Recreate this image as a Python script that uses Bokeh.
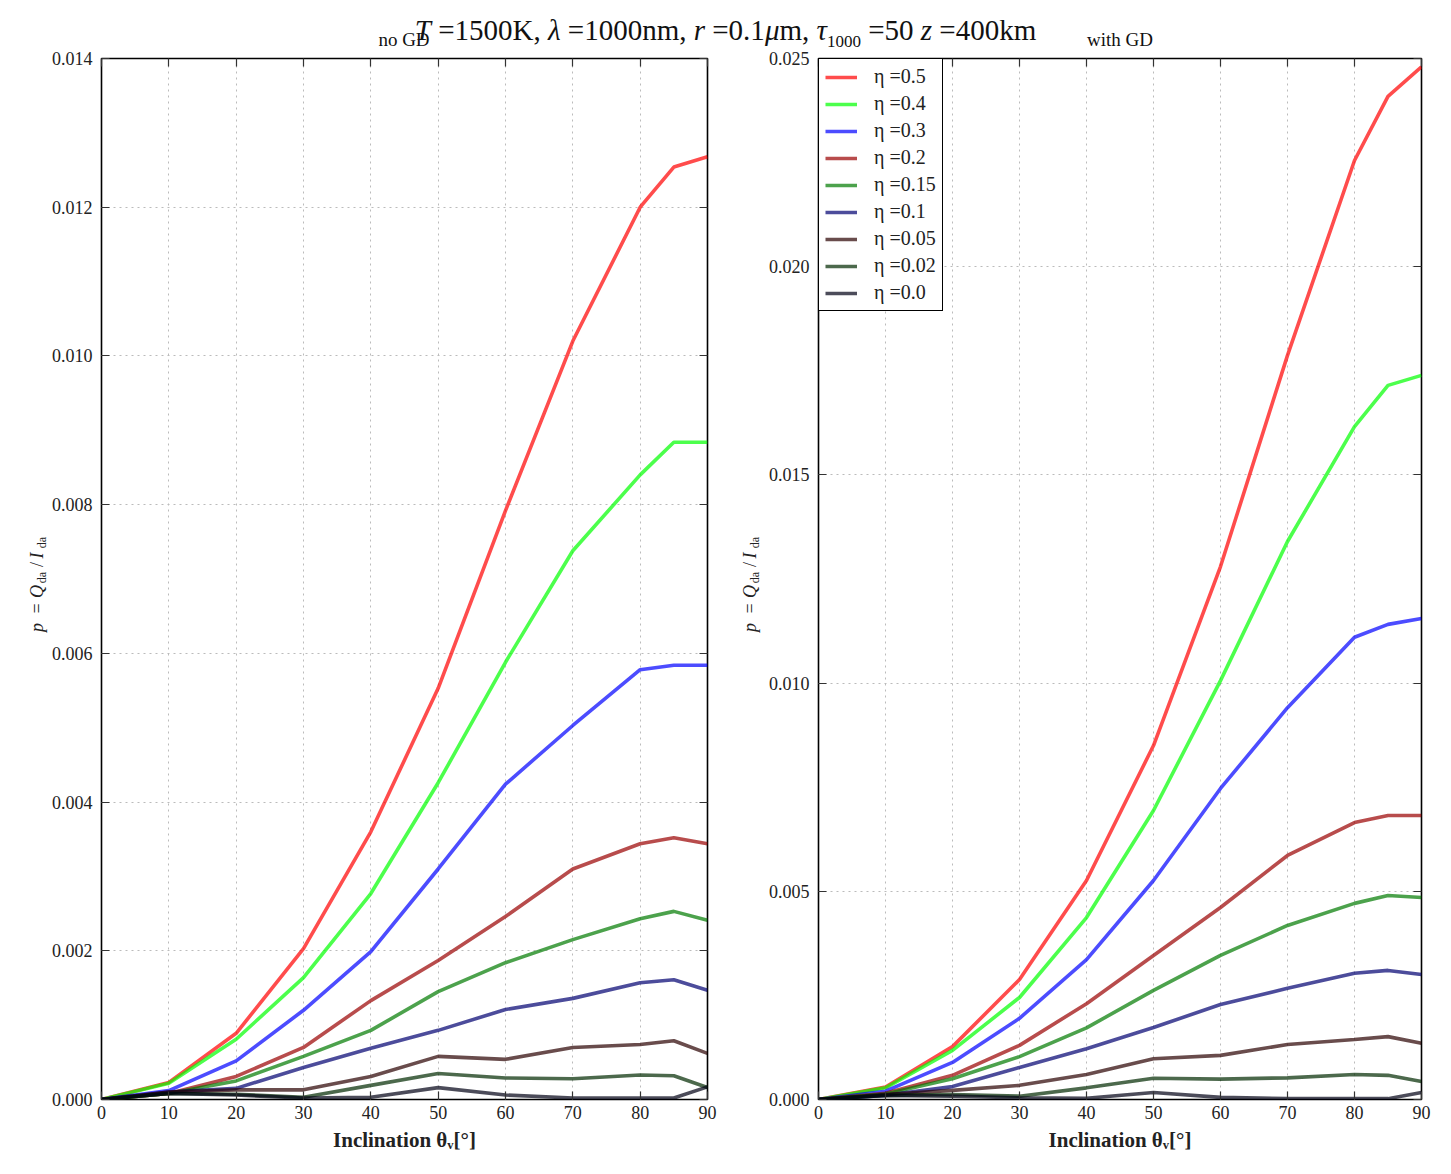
import math
from bokeh.plotting import figure
from bokeh.models import (Range1d, FixedTicker, NumeralTickFormatter, LinearAxis,
                          Legend, LegendItem, Div)
from bokeh.core.properties import value
from bokeh.layouts import column, row
from bokeh.embed import file_html
from bokeh.resources import INLINE

# Inclination angles (degrees)
incl = [0, 10, 20, 30, 40, 50, 60, 70, 80, 85, 90]

etas = ["0.5", "0.4", "0.3", "0.2", "0.15", "0.1", "0.05", "0.02", "0.0"]
colors = ["#ff0000", "#00ff00", "#0000ff", "#9a0000", "#007a00",
          "#000070", "#2a0000", "#002a00", "#000014"]

# Degree of polarisation without gravity darkening
nogd_05 = [0, 0.00023, 0.00089, 0.00203, 0.00360, 0.00553, 0.00792, 0.01020, 0.01200, 0.01254, 0.01268]
nogd_04 = [0, 0.00022, 0.00081, 0.00164, 0.00277, 0.00426, 0.00588, 0.00738, 0.00840, 0.00884, 0.00884]
nogd_03 = [0, 0.00012, 0.00052, 0.00120, 0.00199, 0.00310, 0.00424, 0.00503, 0.00578, 0.00584, 0.00584]
nogd_02 = [0, 0.00008, 0.00031, 0.00070, 0.00133, 0.00187, 0.00246, 0.00310, 0.00344, 0.00352, 0.00344]
nogd_015 = [0, 0.00008, 0.00025, 0.00058, 0.00093, 0.00145, 0.00184, 0.00215, 0.00243, 0.00253, 0.00241]
nogd_01 = [0, 0.00010, 0.00015, 0.00043, 0.00069, 0.00093, 0.00121, 0.00136, 0.00157, 0.00161, 0.00147]
nogd_005 = [0, 0.00010, 0.00013, 0.00013, 0.00031, 0.00058, 0.00054, 0.00070, 0.00074, 0.00079, 0.00062]
nogd_002 = [0, 0.00008, 0.00007, 0.00003, 0.00019, 0.00035, 0.00029, 0.00028, 0.00033, 0.00032, 0.00016]
nogd_00 = [0, 0.00008, 0.00006, 0.00002, 0.00003, 0.00016, 0.00006, 0.00002, 0.00002, 0.00002, 0.00017]

# Degree of polarisation with gravity darkening
gd_05 = [0, 0.00030, 0.00127, 0.00288, 0.00526, 0.00850, 0.01280, 0.01787, 0.02255, 0.02409, 0.02480]
gd_04 = [0, 0.00028, 0.00118, 0.00245, 0.00437, 0.00694, 0.01006, 0.01340, 0.01616, 0.01715, 0.01739]
gd_03 = [0, 0.00020, 0.00089, 0.00195, 0.00336, 0.00526, 0.00747, 0.00941, 0.01110, 0.01141, 0.01155]
gd_02 = [0, 0.00015, 0.00058, 0.00130, 0.00230, 0.00346, 0.00461, 0.00586, 0.00665, 0.00682, 0.00682]
gd_015 = [0, 0.00013, 0.00050, 0.00103, 0.00172, 0.00262, 0.00346, 0.00418, 0.00471, 0.00490, 0.00485]
gd_01 = [0, 0.00010, 0.00031, 0.00077, 0.00122, 0.00173, 0.00228, 0.00267, 0.00303, 0.00310, 0.00300]
gd_005 = [0, 0.00012, 0.00022, 0.00034, 0.00060, 0.00098, 0.00106, 0.00132, 0.00144, 0.00151, 0.00135]
gd_002 = [0, 0.00010, 0.00012, 0.00008, 0.00028, 0.00051, 0.00049, 0.00052, 0.00060, 0.00058, 0.00043]
gd_00 = [0, 0.00010, 0.00008, 0.00004, 0.00003, 0.00017, 0.00005, 0.00002, 0.00002, 0.00002, 0.00017]

nogd = [nogd_05, nogd_04, nogd_03, nogd_02, nogd_015, nogd_01, nogd_005, nogd_002, nogd_00]
gd = [gd_05, gd_04, gd_03, gd_02, gd_015, gd_01, gd_005, gd_002, gd_00]

x_ticks = [0, 10, 20, 30, 40, 50, 60, 70, 80, 90]
y_ticks_nogd = [0.0, 0.002, 0.004, 0.006, 0.008, 0.010, 0.012, 0.014]
y_ticks_gd = [0.0, 0.005, 0.010, 0.015, 0.020, 0.025]

SERIF = "Liberation Serif"
HEAD_H = 48              # height of the heading strip above the panels
BORDER_TOP = 10
BORDER_BOTTOM = 60
FRAME_H = 1041
PANEL_H = BORDER_TOP + FRAME_H + BORDER_BOTTOM
FRAME_BOTTOM = HEAD_H + BORDER_TOP + FRAME_H   # page row of the x axes
X_MAX = 90


def make_panel(series, y_max, y_ticks, border_left, frame_w, with_legend):
    p = figure(frame_width=frame_w, frame_height=FRAME_H,
               min_border_left=border_left, min_border_right=30,
               min_border_top=BORDER_TOP, min_border_bottom=BORDER_BOTTOM,
               x_range=Range1d(0, X_MAX), y_range=Range1d(0, y_max),
               output_backend="svg", toolbar_location=None,
               background_fill_color="white", border_fill_color="white")
    p.outline_line_color = "black"
    p.outline_line_width = 1.6
    p.outline_line_alpha = 1.0

    for ax in (p.xaxis[0], p.yaxis[0]):
        ax.axis_line_color = None
        ax.major_tick_in = 8
        ax.major_tick_out = 0
        ax.minor_tick_line_color = None
        ax.major_tick_line_color = "#333333"
        ax.major_tick_line_width = 1.2
        ax.major_label_text_font = SERIF
        ax.major_label_text_font_size = "18px"
        ax.major_label_text_color = "#222222"
    p.yaxis.major_label_standoff = 9
    p.xaxis.major_label_standoff = 6

    p.xaxis.ticker = FixedTicker(ticks=x_ticks)
    p.yaxis.ticker = FixedTicker(ticks=y_ticks)
    p.yaxis.formatter = NumeralTickFormatter(format="0.000")
    p.xaxis.axis_label = "Inclination θᵥ[°]"
    p.xaxis.axis_label_text_font = SERIF
    p.xaxis.axis_label_text_font_size = "21px"
    p.xaxis.axis_label_text_font_style = "bold"
    p.xaxis.axis_label_text_color = "#222222"
    p.xaxis.axis_label_standoff = 6

    # tick marks along the top and right edges (no labels there)
    for place, tick in (("above", x_ticks), ("right", y_ticks)):
        extra = LinearAxis(ticker=FixedTicker(ticks=tick), axis_line_color=None,
                           major_tick_in=8, major_tick_out=0,
                           minor_tick_line_color=None,
                           major_tick_line_color="#333333", major_tick_line_width=1.2,
                           major_label_overrides={t: "" for t in tick},
                           major_label_standoff=0)
        p.add_layout(extra, place)

    p.xgrid.grid_line_color = "#bbbbbb"
    p.ygrid.grid_line_color = "#bbbbbb"
    p.xgrid.grid_line_dash = "2 4"
    p.ygrid.grid_line_dash = "2 4"
    p.xgrid.grid_line_width = 1
    p.ygrid.grid_line_width = 1

    items = []
    for eta, col, ys in zip(etas, colors, series):
        r = p.line(incl, ys, line_color=col, line_alpha=0.7, line_width=3.6)
        items.append(LegendItem(label="η =" + eta, renderers=[r]))

    if with_legend:
        leg = Legend(items=items, location="top_left", margin=0, padding=6,
                     spacing=4, label_height=20, glyph_height=20, glyph_width=32,
                     label_standoff=17, label_text_font=SERIF,
                     label_text_font_size="20px", label_text_color="#222222",
                     border_line_color="black", border_line_width=1.6,
                     border_line_alpha=1.0, background_fill_alpha=1.0)
        p.add_layout(leg, "center")
    return p


def make_ylabel(width, mid_x):
    """Narrow strip holding the rotated label p = Q_da / I_da.

    Its frame lines up with the panels' frames, so rows are measured
    upwards from the x axis."""
    s = figure(width=width, height=PANEL_H, min_border=0,
               min_border_top=BORDER_TOP, min_border_bottom=BORDER_BOTTOM,
               x_range=Range1d(0, width), y_range=Range1d(0, FRAME_H),
               x_axis_type=None, y_axis_type=None,
               output_backend="svg", toolbar_location=None,
               background_fill_color="white", border_fill_color="white")
    s.outline_line_color = None
    s.grid.visible = False
    # (text, page row of its centre, sideways shift for subscripts, size, style)
    pieces = [("p", 627, 0, "18px", "italic"),
              ("=", 608, 0, "18px", "normal"),
              ("Q", 591, 0, "18px", "italic"),
              ("da", 577, 5, "12px", "normal"),
              ("/", 564, 0, "18px", "normal"),
              ("I", 555, 0, "18px", "italic"),
              ("da", 542, 5, "12px", "normal")]
    for txt, cy, dx, size, style in pieces:
        s.text(x=[mid_x + dx], y=[FRAME_BOTTOM - cy], text=[txt], angle=math.pi / 2,
               text_align="center", text_baseline="middle",
               text_font=value(SERIF), text_font_size=value(size),
               text_font_style=style, text_color="#222222")
    return s


ylab_left = make_ylabel(48, 36)
left = make_panel(nogd, 0.014, y_ticks_nogd, 53, 606, False)
ylab_right = make_ylabel(28, 12)
right = make_panel(gd, 0.025, y_ticks_gd, 53, 603, True)

heading = (
    '<div style="position:relative;width:1451px;height:48px;margin:0;padding:0;'
    'font-family:\'Liberation Serif\',serif;color:#111;">'
    '<span style="position:absolute;left:0;top:16px;width:1451px;text-align:center;'
    'font-size:29px;line-height:29px;white-space:nowrap;">'
    '<i>T</i> =1500K, <i>λ</i> =1000nm, <i>r</i> =0.1<i>μ</i>m, '
    '<i>τ</i><sub style="font-size:17px;line-height:0;">1000</sub> =50 <i>z</i> =400km</span>'
    '<span style="position:absolute;left:304px;top:30px;width:200px;text-align:center;'
    'font-size:19px;line-height:19px;">no GD</span>'
    '<span style="position:absolute;left:1020px;top:30px;width:200px;text-align:center;'
    'font-size:19px;line-height:19px;">with GD</span>'
    '</div>'
)
head = Div(text=heading, width=1451, height=HEAD_H, margin=0)

layout = column(head, row(ylab_left, left, ylab_right, right, spacing=0), spacing=0)

open("out.html", "w").write(file_html(layout, INLINE))
